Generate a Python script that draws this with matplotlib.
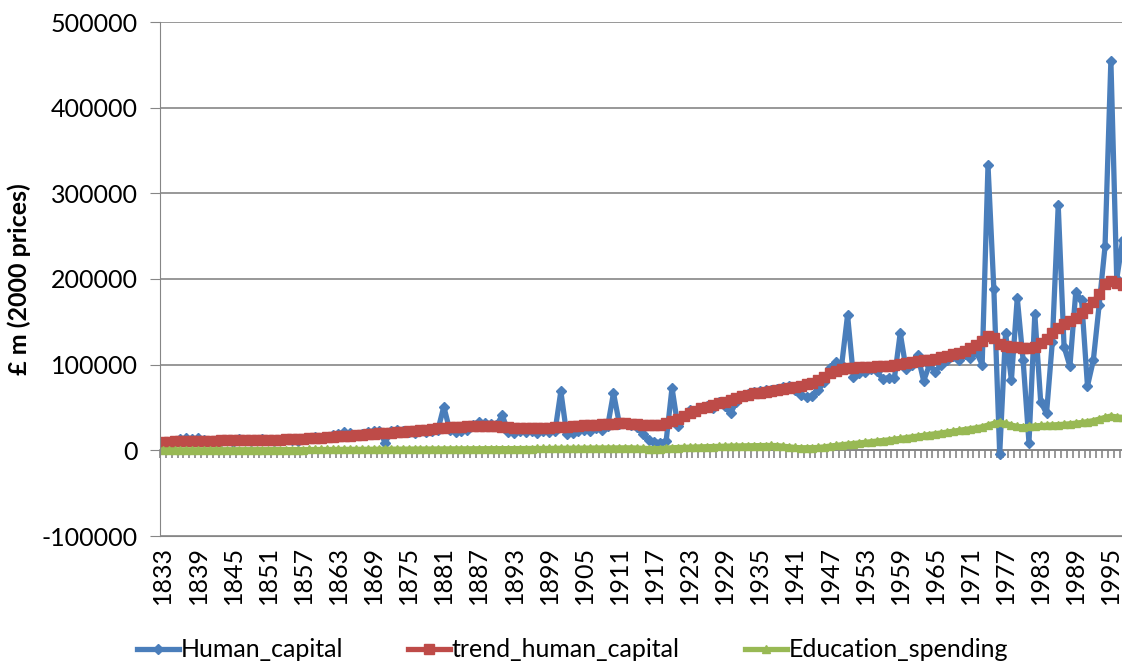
import matplotlib.pyplot as plt
import numpy as np


years = list(range(1833, 1998))

human_capital = [
    9000, 10000, 11000, 13000, 14000, 13000, 14000, 12000, 11000, 10000,
    11000, 12000, 10000, 13000, 12000, 11000, 12000, 13000, 12000, 11000,
    12000, 13000, 12000, 11000, 13000, 14000, 15000, 14000, 16000, 18000,
    19000, 21000, 20000, 18000, 19000, 21000, 22000, 22000, 9000, 23000,
    24000, 22000, 21000, 20000, 22000, 21000, 23000, 24000, 51000, 24000,
    21000, 22000, 24000, 30000, 33000, 32000, 31000, 29000, 41000, 21000,
    20000, 23000, 21000, 22000, 20000, 23000, 21000, 22000, 69000, 19000,
    20000, 22000, 24000, 23000, 26000, 24000, 28000, 67000, 31000, 32000,
    29000, 27000, 19000, 12000, 10000, 9000, 11000, 73000, 28000, 40000,
    47000, 46000, 50000, 52000, 50000, 56000, 52000, 43000, 57000, 63000,
    66000, 68000, 69000, 70000, 71000, 72000, 74000, 75000, 70000, 65000,
    62000, 64000, 70000, 80000, 96000, 103000, 100000, 158000, 86000, 90000,
    92000, 95000, 93000, 83000, 85000, 84000, 137000, 95000, 100000, 111000,
    81000, 100000, 92000, 100000, 105000, 110000, 106000, 112000, 108000, 115000,
    100000, 333000, 188000, -4000, 137000, 82000, 178000, 105000, 9000, 159000,
    57000, 43000, 127000, 286000, 121000, 98000, 185000, 175000, 75000, 105000,
    170000, 238000, 455000, 200000, 245000,
]

trend_human_capital = [
    10000, 10200, 10400, 10600, 10800, 11000, 11100, 11200, 11300, 11400,
    11500, 11600, 11700, 11800, 11900, 12000, 12100, 12200, 12300, 12400,
    12500, 12700, 12900, 13200, 13500, 13900, 14300, 14800, 15300, 15800,
    16300, 16800, 17300, 17800, 18300, 18800, 19300, 19800, 20300, 20800,
    21300, 21800, 22300, 22900, 23500, 24100, 24800, 25500, 26200, 26700,
    27100, 27500, 27900, 28300, 28600, 28800, 28800, 28500, 27800, 27000,
    26300, 25900, 25700, 25700, 25900, 26200, 26600, 27000, 27400, 27800,
    28200, 28600, 29000, 29400, 29800, 30200, 30700, 31200, 31500, 31400,
    31000, 30500, 30000, 29500, 29500, 30000, 31500, 34000, 37000, 40000,
    43000, 46000, 49000, 51000, 53000, 55000, 57000, 59000, 61000, 63000,
    65000, 66500, 67500, 68500, 69500, 70500, 71500, 72500, 73500, 75000,
    77000, 79000, 82000, 86000, 90000, 93000, 95000, 96000, 96500, 97000,
    97000, 97500, 98000, 98500, 99000, 100000, 101000, 102000, 103000, 104000,
    105000, 106000, 107000, 108500, 110000, 112000, 114000, 116000, 119000, 123000,
    128000, 134000, 131000, 124000, 122000, 121000, 121000, 120000, 119000, 121000,
    125000, 130000, 137000, 143000, 147000, 151000, 155000, 160000, 166000, 173000,
    183000, 194000, 198000, 195000, 193000,
]

education_spending = [
    500, 500, 500, 500, 600, 600, 600, 600, 600, 700,
    700, 700, 700, 700, 700, 800, 800, 800, 800, 800,
    800, 900, 900, 900, 900, 1000, 1000, 1000, 1000, 1100,
    1100, 1100, 1100, 1200, 1200, 1200, 1300, 1300, 1300, 1400,
    1400, 1400, 1500, 1500, 1500, 1600, 1600, 1600, 1700, 1700,
    1700, 1800, 1800, 1800, 1900, 1900, 1900, 2000, 2000, 2000,
    2000, 2100, 2100, 2100, 2200, 2200, 2300, 2300, 2400, 2400,
    2500, 2500, 2600, 2600, 2700, 2700, 2800, 2800, 2900, 2900,
    2900, 2600, 2300, 2100, 2000, 2100, 2600, 3000, 3300, 3500,
    3700, 3900, 4100, 4300, 4400, 4600, 4800, 5000, 5100, 5200,
    5300, 5400, 5500, 5600, 5700, 5500, 4800, 4000, 3400, 3000,
    3000, 3100, 3400, 4000, 5000, 5800, 6500, 7200, 7800, 8500,
    9200, 9900, 10600, 11400, 12200, 13000, 13900, 14800, 15700, 16600,
    17500, 18400, 19300, 20300, 21300, 22300, 23300, 24300, 25300, 26300,
    27500, 29500, 31500, 33000, 31500, 29500, 28000, 27500, 28000, 28500,
    29000, 29300, 29600, 30000, 30500, 31000, 31700, 32500, 33500, 34700,
    36500, 38500, 40000, 39000, 38500,
]

GREY = "#868686"


def main():
    plt.rcParams['font.family'] = ['Lato', 'DejaVu Sans']
    plt.rcParams['axes.unicode_minus'] = False
    fig = plt.figure(figsize=(11.22, 6.64), dpi=100)
    ax = fig.add_axes([160 / 1122, 1 - 536 / 664, 1 - 160 / 1122, 514 / 664])

    x = np.arange(len(years))
    ax.plot(x, human_capital, color="#4A7EBB", lw=3.8, marker="D", ms=5.5,
            label="Human_capital")
    ax.plot(x, trend_human_capital, color="#BE4B48", lw=3.8, marker="s", ms=6.5,
            label="trend_human_capital")
    ax.plot(x, education_spending, color="#98B954", lw=3.8, marker="^", ms=5.5,
            label="Education_spending")

    ax.set_xlim(-0.5, 163.9)
    ax.set_ylim(-100000, 500000)
    ax.set_yticks(range(-100000, 500001, 100000))
    ax.set_xticks(x[::6])
    ax.set_xticklabels([str(y) for y in years[::6]], rotation=90, fontsize=18)
    ax.tick_params(axis="x", length=0, pad=7)
    ax.tick_params(axis="y", labelsize=18, length=7, color=GREY, pad=9)

    ax.grid(True, axis="y", color=GREY, lw=1.2)
    ax.set_axisbelow(True)
    for s in ("top", "right"):
        ax.spines[s].set_visible(False)
    ax.spines["left"].set_color(GREY)
    ax.spines["bottom"].set_color(GREY)

    # category axis crossing at zero, ticks between categories
    sec = ax.secondary_xaxis(0, transform=ax.transData)
    sec.set_xticks(np.arange(len(years) + 1) - 0.5)
    sec.set_xticklabels([])
    sec.tick_params(direction="out", length=6, color=GREY, width=1.2)
    sec.spines["bottom"].set_color(GREY)
    sec.spines["bottom"].set_linewidth(1.2)

    ax.set_ylabel("£ m (2000 prices)", fontsize=18, fontweight="bold")
    ax.yaxis.set_label_coords(-0.134, 0.5)

    fig.legend(loc="lower center", ncol=3, bbox_to_anchor=(0.51, -0.03),
               frameon=False, fontsize=18, handlelength=1.7, columnspacing=2.6,
               handletextpad=0.05)

    plt.savefig("out.png", dpi=100)


if __name__ == '__main__':
    main()
